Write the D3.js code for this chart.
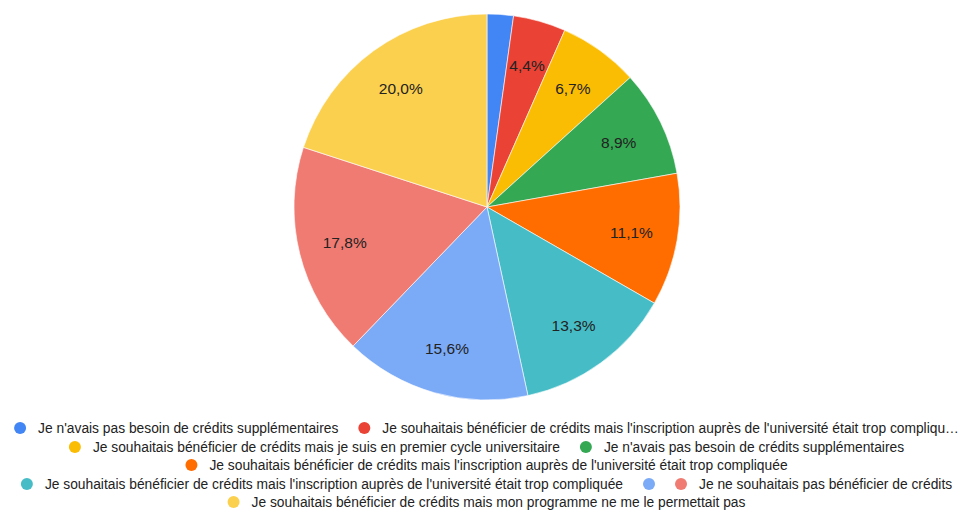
<!DOCTYPE html>
<html>
<head>
<meta charset="utf-8">
<script src="https://cdn.jsdelivr.net/npm/d3@7"></script>
<style>
  body { margin: 0; background: #fff; }
  svg { display: block; font-family: "Liberation Sans", Arial, sans-serif; }
</style>
</head>
<body>
<div id="chart"></div>
<script>
"use strict";

// slice labels (legend), values in %, colours — clockwise from 12 o'clock
const labels = [
  "Je n'avais pas besoin de crédits supplémentaires",
  "Je souhaitais bénéficier de crédits mais l'inscription auprès de l'université était trop compliquée",
  "Je souhaitais bénéficier de crédits mais je suis en premier cycle universitaire",
  "Je n'avais pas besoin de crédits supplémentaires",
  "Je souhaitais bénéficier de crédits mais l'inscription auprès de l'université était trop compliquée",
  "Je souhaitais bénéficier de crédits mais l'inscription auprès de l'université était trop compliquée",
  "",
  "Je ne souhaitais pas bénéficier de crédits",
  "Je souhaitais bénéficier de crédits mais mon programme ne me le permettait pas"
];
const values = [2.2, 4.4, 6.7, 8.9, 11.1, 13.3, 15.6, 17.8, 20.0];
const colors = ["#4285f4", "#ea4335", "#fbbc04", "#34a853", "#ff6d01", "#46bdc6", "#7baaf7", "#f07b72", "#fcd04f"];
// which legend entries go on which line
const legendRows = [[0, 1], [2, 3], [4], [5, 6, 7], [8]];

const width = 960, height = 510;
const cx = 487, cy = 207, radius = 193;

const svg = d3.select("#chart").append("svg")
  .attr("width", width)
  .attr("height", height);

///////////////////////////
// pie
///////////////////////////
const pie = d3.pie().sort(null).value(d => d);
const arcs = pie(values);
const arc = d3.arc().innerRadius(0).outerRadius(radius);
const labelArc = d3.arc().innerRadius(radius * 0.76).outerRadius(radius * 0.76);

const g = svg.append("g").attr("transform", `translate(${cx},${cy})`);

g.selectAll("path")
  .data(arcs)
  .enter()
  .append("path")
  .attr("d", arc)
  .attr("fill", (d, i) => colors[i])
  .attr("stroke", "#fff")
  .attr("stroke-width", 0.6);

const fmt = v => v.toFixed(1).replace(".", ",") + "%";

g.selectAll("text.slice")
  .data(arcs.filter(d => d.data >= 3))
  .enter()
  .append("text")
  .attr("class", "slice")
  .attr("transform", d => `translate(${labelArc.centroid(d)})`)
  .attr("text-anchor", "middle")
  .attr("dy", "0.35em")
  .attr("font-size", "15.5px")
  .attr("fill", "#222")
  .text(d => fmt(d.data));

///////////////////////////
// legend
///////////////////////////
const legendFont = 13.8, dotR = 6, textGap = 12, itemGap = 20, maxW = 946;
const rowY = [428, 447, 465, 484, 502];
const legendCx = cx - 0.5;

const measure = svg.append("text").attr("font-size", legendFont + "px");
const textW = s => { measure.text(s); return measure.node().getComputedTextLength(); };

const legend = svg.append("g").attr("class", "legend");

legendRows.forEach((row, r) => {
  const items = row.map(i => ({ i, text: labels[i] }));
  const itemW = it => dotR * 2 + (it.text ? textGap + textW(it.text) : 0);
  let total = d3.sum(items, itemW) + itemGap * (items.length - 1);
  // shorten the last entry with an ellipsis when the line is too long
  const last = items[items.length - 1];
  if (total > maxW) {
    let s = last.text;
    while (s.length && total > maxW) {
      s = s.slice(0, -1);
      last.text = s.trimEnd() + "…";
      total = d3.sum(items, itemW) + itemGap * (items.length - 1);
    }
  }
  let x = legendCx - total / 2;
  items.forEach(it => {
    legend.append("circle")
      .attr("cx", x + dotR)
      .attr("cy", rowY[r])
      .attr("r", dotR)
      .attr("fill", colors[it.i]);
    if (it.text) {
      legend.append("text")
        .attr("x", x + dotR * 2 + textGap)
        .attr("y", rowY[r])
        .attr("dy", "0.35em")
        .attr("font-size", legendFont + "px")
        .attr("fill", "#222")
        .text(it.text);
    }
    x += itemW(it) + itemGap;
  });
});
measure.remove();
</script>
</body>
</html>
